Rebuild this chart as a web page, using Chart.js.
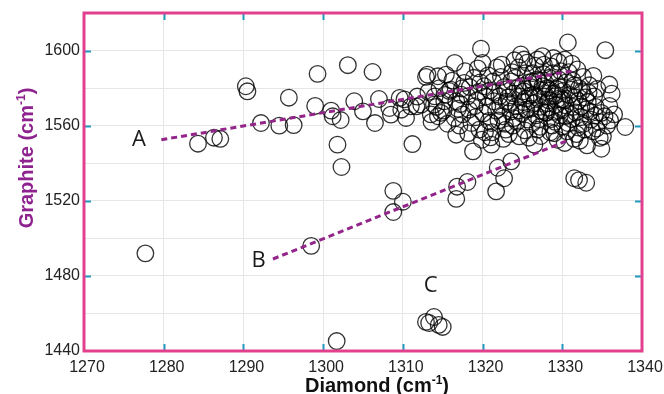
<!DOCTYPE html>
<html lang="en">
<head>
  <meta charset="UTF-8">
  <title>Diamond vs Graphite</title>
  <script src="https://cdn.jsdelivr.net/npm/chart.js"></script>
  <style>
    * { box-sizing: border-box; }
    html, body { margin: 0; background: #fff; overflow: hidden; }
    canvas { display: block; }
  </style>
</head>
<body>
  <canvas id="grafico" width="664" height="394"></canvas>

  <script>
    // axis ticks
    const xTicks = [1270, 1280, 1290, 1300, 1310, 1320, 1330, 1340];
    const yTicks = [1440, 1480, 1520, 1560, 1600];

    // [diamond, graphite] peak positions, cm-1
    const outliers = [
      [1277.7, 1492], [1284.3, 1550.4], [1286.3, 1553.6], [1287.1, 1553], [1290.3, 1581],
      [1290.5, 1578.3], [1292.2, 1561.4], [1294.5, 1560], [1295.7, 1574.9], [1296.3, 1560.3],
      [1298.5, 1496], [1299, 1570.5], [1299.3, 1587.6], [1301, 1568], [1301.2, 1565],
      [1302.2, 1563], [1301.8, 1549.9], [1302.3, 1538], [1301.7, 1445.3], [1303.1, 1592.2],
      [1303.9, 1573], [1305, 1567.6], [1306.2, 1588.6], [1306.5, 1561.4], [1307, 1574.2],
      [1308.3, 1569.4], [1308.5, 1565.9], [1309.6, 1574.8], [1309.8, 1568.5], [1310.4, 1564.1],
      [1311.2, 1550.2]
    ];
    const groupB = [
      [1308.8, 1525.3], [1310, 1519.5], [1308.8, 1514], [1316.8, 1527.5], [1316.7, 1521],
      [1318.1, 1530], [1321.9, 1537.6], [1322.7, 1532], [1321.7, 1525], [1323.6, 1541],
      [1331.5, 1532], [1332.1, 1531], [1333, 1529.6]
    ];
    const groupC = [
      [1312.9, 1455.5], [1313.9, 1458.1], [1313.3, 1454.9], [1314.5, 1453.9], [1315, 1452.8]
    ];
    const clusterLeft = [
      [1310.2, 1574], [1311, 1570.3], [1311.7, 1570.3], [1311.8, 1575.5], [1312.3, 1571.2],
      [1312.9, 1586], [1313.1, 1587.2], [1313.5, 1566], [1313.9, 1571.2], [1313.2, 1578],
      [1313.6, 1562], [1314, 1575.6], [1314.4, 1586.3], [1314.4, 1565], [1314.8, 1566.8],
      [1314.6, 1580], [1314.2, 1570], [1315.4, 1587.2], [1315.2, 1573], [1315.6, 1561],
      [1315.8, 1578.5], [1315.1, 1568], [1316, 1579.2], [1316.5, 1593.4], [1316.7, 1573],
      [1316.5, 1564.1], [1316.7, 1555.2], [1316.2, 1584], [1316.9, 1569], [1317.7, 1582.8],
      [1317.3, 1576.5], [1317.1, 1560], [1317.5, 1566], [1317.8, 1589], [1317.2, 1571.5],
      [1315.3, 1576.4], [1317.4, 1579.8]
    ];
    const clusterMid = [
      [1318.1, 1575.6], [1318.3, 1568.5], [1318.6, 1561.4], [1318.8, 1546.3], [1318.4, 1580.5],
      [1318.9, 1585.5], [1318.2, 1556], [1319.6, 1557.9], [1319.8, 1601], [1319.3, 1573.5],
      [1319.5, 1578], [1319.1, 1564.5], [1319.7, 1583], [1319.4, 1590.5], [1319.9, 1552.5],
      [1320, 1593.4], [1320.2, 1581], [1320.6, 1570.3], [1320.4, 1575.5], [1320.8, 1562.5],
      [1320.1, 1566.5], [1320.7, 1586.8], [1320.3, 1556.5], [1321.1, 1561.4], [1321.1, 1549.9],
      [1321.5, 1577.5], [1321.3, 1583.5], [1321.7, 1568], [1321.4, 1573], [1321.8, 1591],
      [1321.2, 1556.5], [1322.1, 1575.6], [1322.5, 1565], [1322.9, 1557.9], [1322.3, 1586],
      [1322.7, 1580.5], [1322.2, 1570.5], [1322.8, 1561], [1322.4, 1592.5], [1322.6, 1553],
      [1323.6, 1583.6], [1323.2, 1575], [1323.5, 1567.5], [1323.1, 1579.5], [1323.8, 1560],
      [1323.4, 1571.5], [1323.7, 1588.5], [1323.3, 1555.5], [1323.9, 1564], [1324.2, 1570.3],
      [1324.6, 1554.3], [1324.8, 1597.9], [1324.4, 1580], [1324.1, 1585.5], [1324.7, 1575.5],
      [1324.3, 1562], [1324.9, 1566.5], [1324.5, 1591], [1325.2, 1595.2], [1325.2, 1578.3],
      [1325.7, 1563.2], [1325.4, 1588], [1325.1, 1572.5], [1325.8, 1583], [1325.5, 1568.5],
      [1325.3, 1557.5], [1325.9, 1576], [1325.6, 1593.5], [1323, 1572.8], [1323.9, 1577.2],
      [1324.6, 1568.2], [1325.4, 1574.4], [1325, 1581.2], [1325.8, 1553.6], [1324, 1594.8],
      [1320.9, 1578.8], [1319, 1570.4], [1322, 1562.8], [1321, 1553.8]
    ];
    const clusterRight = [
      [1326.3, 1588], [1326.5, 1572], [1326.9, 1557.9], [1326.5, 1549.9], [1326.1, 1580.5],
      [1326.7, 1565.5], [1326.4, 1576.5], [1326.8, 1584.5], [1326.2, 1561], [1326.6, 1592],
      [1327.5, 1597], [1327.5, 1581], [1327.2, 1570], [1327.8, 1575.5], [1327.1, 1563.5],
      [1327.6, 1587.5], [1327.3, 1554.5], [1327.9, 1567], [1327.4, 1579], [1327.7, 1592.5],
      [1327, 1584], [1328, 1566.8], [1328.6, 1591.6], [1328.3, 1573.5], [1328.1, 1580],
      [1328.7, 1560], [1328.4, 1585.5], [1328.9, 1577], [1328.2, 1569.5], [1328.5, 1556.5],
      [1328.8, 1588], [1328.6, 1563.5], [1329, 1575.6], [1329, 1556], [1329.6, 1584.5],
      [1329.4, 1552.5], [1329.2, 1571], [1329.7, 1565.5], [1329.3, 1579.5], [1329.8, 1589],
      [1329.1, 1562], [1329.5, 1594], [1329.9, 1574], [1330, 1568.5], [1330.7, 1561.4],
      [1330.3, 1595.2], [1330.7, 1604.3], [1330.3, 1550.8], [1330.1, 1578.5], [1330.5, 1583],
      [1330.2, 1573.5], [1330.8, 1588.5], [1330.4, 1565], [1330.6, 1557], [1331.1, 1579.2],
      [1331.9, 1589.9], [1331.4, 1570], [1331.6, 1575], [1331.2, 1563.5], [1331.8, 1555.5],
      [1331.3, 1584], [1331.7, 1567], [1331.5, 1553], [1332.4, 1570.3], [1332.8, 1557.9],
      [1332.1, 1580], [1332.6, 1586], [1332.3, 1564.5], [1332.9, 1575], [1332.2, 1552],
      [1332.7, 1561], [1333.6, 1563.2], [1333.2, 1572.5], [1333.4, 1581.5], [1333.8, 1557],
      [1333.1, 1549.5], [1333.5, 1567.5], [1333.9, 1586.5], [1334, 1575.6], [1334.9, 1566.8],
      [1334.9, 1547.7], [1334.3, 1558.5], [1334.6, 1562], [1334.2, 1570], [1334.7, 1553.5],
      [1335.9, 1581.9], [1335.1, 1554.3], [1335.4, 1600.2], [1335.3, 1565], [1335.9, 1570.5],
      [1335.6, 1560], [1336.2, 1577], [1337.9, 1559.3], [1336.5, 1566],
      [1326, 1569], [1326.9, 1574.8], [1326.3, 1583.6], [1327.4, 1567.8], [1327.9, 1582.6],
      [1328.5, 1578.8], [1328.1, 1572], [1328.9, 1567.4], [1329.4, 1574.2], [1329.6, 1580.8],
      [1330.4, 1570.8], [1330.9, 1576.4], [1331.5, 1581.6], [1331, 1566.2], [1332, 1573.2],
      [1332.5, 1578.4], [1333, 1568.6], [1333.3, 1577.6], [1334.1, 1565.4], [1327.2, 1559.4],
      [1330, 1559.6], [1332, 1559], [1326.9, 1595.2], [1328.9, 1596], [1331.2, 1593],
      [1334.4, 1579.6], [1336, 1562.8]
    ];

    // trend lines A and B, [diamond, graphite] end points
    const lineA = [[1279.7, 1552.5], [1331.4, 1589.2]];
    const lineB = [[1293.7, 1489], [1330.9, 1552.5]];

    const letters = [
      { text: 'A', x: 1276.9, y: 1552.5 },
      { text: 'B', x: 1291.9, y: 1488 },
      { text: 'C', x: 1313.5, y: 1474.7 }
    ];

    const toPts = arr => arr.map(p => ({ x: p[0], y: p[1] }));
    const allPoints = [].concat(outliers, groupB, groupC, clusterLeft, clusterMid, clusterRight);

    const FRAME = '#e2408f';
    const TICK = '#2399bd';
    const FONT = '"Liberation Sans", Arial, sans-serif';

    function drawSupText(ctx, parts, x, y, color) {
      // parts: [normal, superscript, normal]
      const big = 'bold 20px ' + FONT;
      const small = 'bold 12px ' + FONT;
      ctx.font = big;
      const w1 = ctx.measureText(parts[0]).width;
      const w3 = ctx.measureText(parts[2]).width;
      ctx.font = small;
      const w2 = ctx.measureText(parts[1]).width;
      let cx = x - (w1 + w2 + w3) / 2;
      ctx.fillStyle = color;
      ctx.textAlign = 'left';
      ctx.textBaseline = 'alphabetic';
      ctx.font = big;
      ctx.fillText(parts[0], cx, y);
      cx += w1;
      ctx.font = small;
      ctx.fillText(parts[1], cx, y - 8);
      cx += w2;
      ctx.font = big;
      ctx.fillText(parts[2], cx, y);
    }

    const overlay = {
      id: 'overlay',
      afterDraw(chart) {
        const { ctx, chartArea: a, scales: { x, y } } = chart;
        ctx.save();

        // inward tick marks on all four sides
        ctx.strokeStyle = TICK;
        ctx.lineWidth = 2;
        ctx.beginPath();
        xTicks.slice(1, -1).forEach(v => {
          const px = Math.round(x.getPixelForValue(v)) + 0.5;
          ctx.moveTo(px, a.bottom); ctx.lineTo(px, a.bottom - 7);
          ctx.moveTo(px, a.top); ctx.lineTo(px, a.top + 7);
        });
        yTicks.slice(1).forEach(v => {
          const py = Math.round(y.getPixelForValue(v)) + 0.5;
          ctx.moveTo(a.left, py); ctx.lineTo(a.left + 7, py);
          ctx.moveTo(a.right, py); ctx.lineTo(a.right - 7, py);
        });
        ctx.stroke();

        // frame
        ctx.strokeStyle = FRAME;
        ctx.lineWidth = 3;
        ctx.strokeRect(a.left, a.top, a.right - a.left, a.bottom - a.top);

        // A, B, C
        ctx.fillStyle = '#1a1a1a';
        ctx.font = '22px "Open Sans", sans-serif';
        ctx.textAlign = 'center';
        ctx.textBaseline = 'middle';
        letters.forEach(l => {
          ctx.fillText(l.text, x.getPixelForValue(l.x), y.getPixelForValue(l.y));
        });

        // axis titles
        drawSupText(ctx, ['Diamond (cm', '-1', ')'], 377, 392, '#111');
        ctx.translate(33, 158);
        ctx.rotate(-Math.PI / 2);
        drawSupText(ctx, ['Graphite (cm', '-1', ')'], 0, 0, '#8e2390');

        ctx.restore();
      }
    };

    new Chart(document.getElementById('grafico'), {
      type: 'scatter',
      data: {
        datasets: [
          {
            label: 'A',
            data: toPts(lineA),
            showLine: true,
            borderColor: '#93258a',
            borderWidth: 3,
            borderDash: [6, 4],
            pointRadius: 0,
            order: 0
          },
          {
            label: 'B',
            data: toPts(lineB),
            showLine: true,
            borderColor: '#93258a',
            borderWidth: 3,
            borderDash: [6, 4],
            pointRadius: 0,
            order: 0
          },
          {
            label: 'Peaks',
            data: toPts(allPoints),
            pointStyle: 'circle',
            pointRadius: 8.3,
            borderWidth: 1.3,
            borderColor: 'rgba(0,0,0,0.8)',
            backgroundColor: 'rgba(0,0,0,0)',
            order: 1
          }
        ]
      },
      options: {
        responsive: false,
        animation: false,
        devicePixelRatio: 1,
        layout: { padding: { top: 13, right: 22, left: 0, bottom: 0 } },
        plugins: {
          legend: { display: false },
          tooltip: { enabled: false }
        },
        scales: {
          x: {
            type: 'linear',
            min: 1270,
            max: 1340,
            afterFit: s => { s.height = 43; s.paddingLeft = 0; s.paddingRight = 0; },
            border: { display: false },
            grid: { color: '#e6e6e6', drawTicks: false },
            ticks: {
              stepSize: 10,
              padding: 7,
              labelOffset: 3,
              maxRotation: 0,
              minRotation: 0,
              autoSkip: false,
              color: '#222',
              font: { family: FONT, size: 16 },
              callback: v => xTicks.includes(v) ? String(v) : ''
            }
          },
          y: {
            type: 'linear',
            min: 1440,
            max: 1620,
            afterFit: s => { s.width = 84; s.paddingTop = 0; s.paddingBottom = 0; },
            border: { display: false },
            grid: { color: '#e6e6e6', drawTicks: false },
            ticks: {
              stepSize: 20,
              padding: 4,
              autoSkip: false,
              color: '#222',
              font: { family: FONT, size: 16 },
              callback: v => yTicks.includes(v) ? String(v) : ''
            }
          }
        }
      },
      plugins: [overlay]
    });
  </script>
</body>
</html>
